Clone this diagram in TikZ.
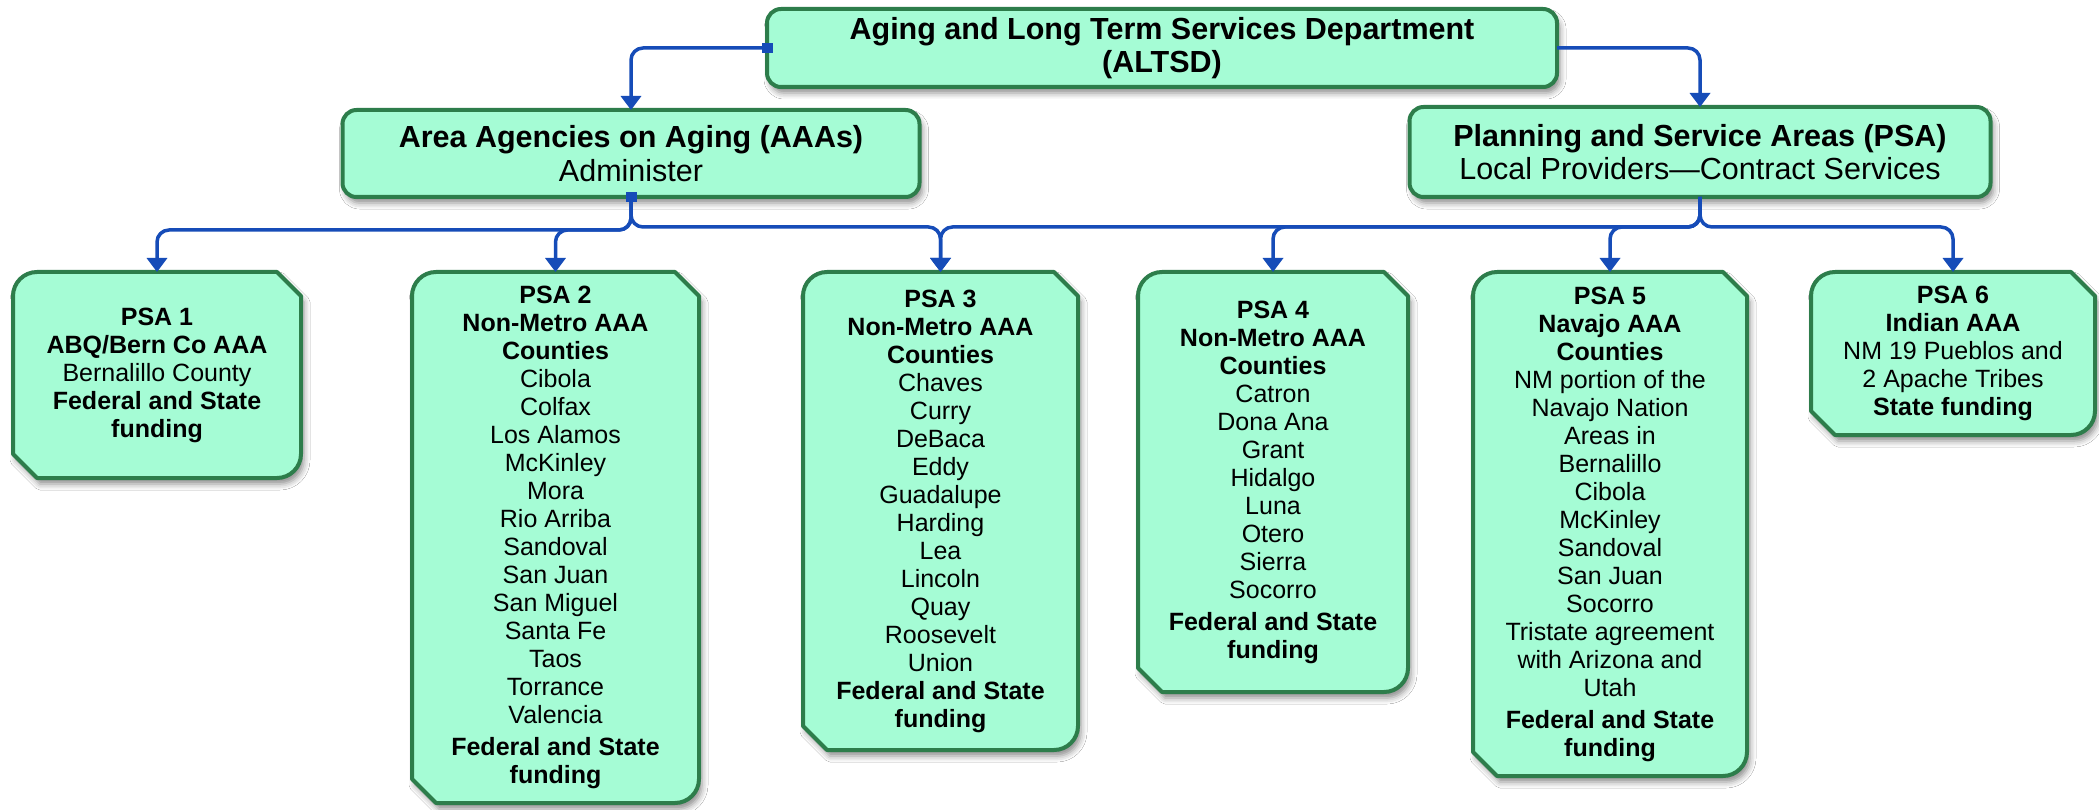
\documentclass[tikz,border=0pt]{standalone}
\usepackage{fontspec}
\setmainfont{Liberation Sans}
\usetikzlibrary{arrows.meta,shadows.blur,backgrounds,calc}
\definecolor{boxfill}{RGB}{165,252,213}
\definecolor{boxline}{RGB}{45,125,75}
\definecolor{connblue}{RGB}{22,76,184}
\tikzset{
  myshadow/.style={blur shadow={shadow xshift=3pt,shadow yshift=-6pt,shadow blur radius=6pt,shadow opacity=45}},
  topbox/.style={draw=boxline, line width=4pt, fill=boxfill, rounded corners=14pt,
    inner sep=0pt, outer sep=0pt, align=center, myshadow,
    font=\fontsize{30.5}{33.5}\selectfont},
  psabox/.style={inner sep=0pt, outer sep=0pt, align=center,
    font=\fontsize{25}{28}\selectfont},
  psashape/.style={draw=boxline, line width=4pt, fill=boxfill, line join=round, myshadow},
  conn/.style={draw=connblue, line width=3.5pt, rounded corners=12pt,
    -{Triangle[width=20pt,length=14pt]}},
  marker/.style={fill=connblue, minimum width=11pt, minimum height=10pt, inner sep=0pt, outer sep=0pt}
}
\newcommand{\drawpsa}[1]{%
  \path[psashape] ([xshift=24pt]#1.north west) -- ([xshift=-24pt]#1.north east)
    -- ([yshift=-24pt]#1.north east) -- ([yshift=24pt]#1.south east)
    arc[start angle=0,end angle=-90,radius=24pt]
    -- ([xshift=24pt]#1.south west) -- ([yshift=24pt]#1.south west)
    -- ([yshift=-24pt]#1.north west)
    arc[start angle=180,end angle=90,radius=24pt] -- cycle;}
\begin{document}
\begin{tikzpicture}[x=1pt,y=-1pt]
\useasboundingbox (0,0) rectangle (2099,810);

\node[topbox, minimum width=790pt, minimum height=78pt] (altsd) at (1162,48)
  {\textbf{Aging and Long Term Services Department}\\\textbf{(ALTSD)}};
\node[topbox, minimum width=577pt, minimum height=87pt] (aaa) at (631,153.5)
  {\textbf{Area Agencies on Aging (AAAs)}\\Administer};
\node[topbox, minimum width=581pt, minimum height=90pt] (plan) at (1700,152)
  {\textbf{Planning and Service Areas (PSA)}\\Local Providers—Contract Services};

\node[psabox, minimum width=288pt, minimum height=206pt] (p1) at (157,375)
  {\textbf{PSA 1}\\\textbf{ABQ/Bern Co AAA}\\Bernalillo County\\\textbf{Federal and State}\\\textbf{funding}};
\node[psabox, minimum width=287pt, minimum height=531pt] (p2) at (555.5,537.5)
  {\textbf{PSA 2}\\\textbf{Non-Metro AAA}\\\textbf{Counties}\\Cibola\\Colfax\\Los Alamos\\McKinley\\Mora\\Rio Arriba\\Sandoval\\San Juan\\San Miguel\\Santa Fe\\Taos\\Torrance\\Valencia\\[4pt]\textbf{Federal and State}\\\textbf{funding}};
\node[psabox, minimum width=275pt, minimum height=478pt] (p3) at (940.5,511)
  {\textbf{PSA 3}\\\textbf{Non-Metro AAA}\\\textbf{Counties}\\Chaves\\Curry\\DeBaca\\Eddy\\Guadalupe\\Harding\\Lea\\Lincoln\\Quay\\Roosevelt\\Union\\\textbf{Federal and State}\\\textbf{funding}};
\node[psabox, minimum width=270pt, minimum height=420pt] (p4) at (1273,482)
  {\textbf{PSA 4}\\\textbf{Non-Metro AAA}\\\textbf{Counties}\\Catron\\Dona Ana\\Grant\\Hidalgo\\Luna\\Otero\\Sierra\\Socorro\\[4pt]\textbf{Federal and State}\\\textbf{funding}};
\node[psabox, minimum width=274pt, minimum height=504pt] (p5) at (1610,524)
  {\textbf{PSA 5}\\\textbf{Navajo AAA}\\\textbf{Counties}\\NM portion of the\\Navajo Nation\\Areas in\\Bernalillo\\Cibola\\McKinley\\Sandoval\\San Juan\\Socorro\\Tristate agreement\\with Arizona and\\Utah\\[4pt]\textbf{Federal and State}\\\textbf{funding}};
\node[psabox, minimum width=284pt, minimum height=163pt] (p6) at (1953,353.5)
  {\textbf{PSA 6}\\\textbf{Indian AAA}\\NM 19 Pueblos and\\2 Apache Tribes\\\textbf{State funding}};

\begin{pgfonlayer}{background}
  \fill[white] (0,0) rectangle (2099,810);
  \drawpsa{p1}\drawpsa{p2}\drawpsa{p3}\drawpsa{p4}\drawpsa{p5}\drawpsa{p6}
\end{pgfonlayer}

\draw[conn] (altsd.west) -| (aaa.north);
\draw[conn] (altsd.east) -| (plan.north);
\draw[conn] (aaa.south) -- ++(0,33) -| (p1.north);
\draw[conn] (aaa.south) -- ++(0,33) -| (p2.north);
\draw[conn] (aaa.south) -- ++(0,30) -| (p3.north);
\draw[conn] (plan.south) -- ++(0,30) -| (p3.north);
\draw[conn] (plan.south) -- ++(0,30) -| (p4.north);
\draw[conn] (plan.south) -- ++(0,30) -| (p5.north);
\draw[conn] (plan.south) -- ++(0,30) -| (p6.north);

\node[marker] (m1) at (altsd.west) {};
\node[marker] (m2) at (aaa.south) {};
\end{tikzpicture}
\end{document}
